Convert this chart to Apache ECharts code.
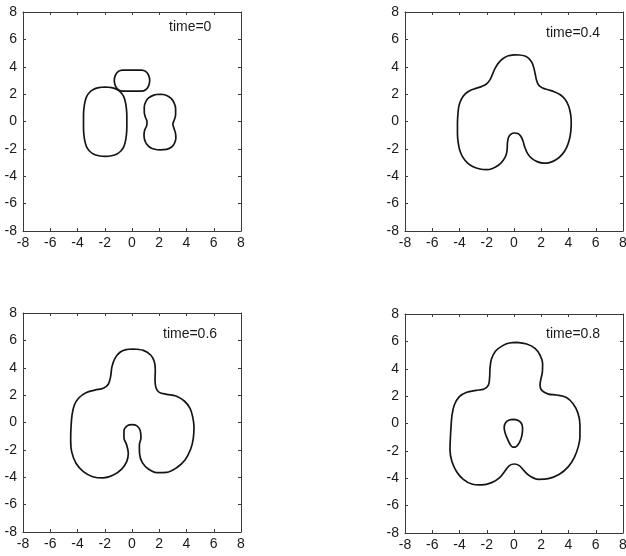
<!DOCTYPE html>
<html>
<head>
<meta charset="utf-8">
<script src="https://cdn.jsdelivr.net/npm/echarts@6/dist/echarts.min.js"></script>
<style>
  html, body { margin: 0; padding: 0; background: #fff; }
  #chart { width: 626px; height: 556px; }
</style>
</head>
<body>
<div id="chart"></div>
<script>
// Axis range shared by all four panels
const axisMin = -8;
const axisMax = 8;
const tickStep = 2;

// Panel captions
const panelTitles = ['time=0', 'time=0.4', 'time=0.6', 'time=0.8'];

// Interface contours, [x, y] along each closed curve

// time = 0: three separate bubbles
const t0Left = [
  [-1.97, 2.52], [-1.5, 2.47], [-1.1, 2.33], [-0.8, 2.1], [-0.6, 1.8], [-0.48, 1.4],
  [-0.41, 0.935], [-0.38, 0.385], [-0.38, -0.415], [-0.41, -0.965], [-0.48, -1.43],
  [-0.6, -1.83], [-0.8, -2.14], [-1.1, -2.37], [-1.5, -2.5], [-1.97, -2.55],
  [-2.44, -2.5], [-2.84, -2.37], [-3.14, -2.14], [-3.34, -1.83], [-3.46, -1.43],
  [-3.53, -0.965], [-3.56, -0.415], [-3.56, 0.385], [-3.53, 0.935], [-3.46, 1.4],
  [-3.34, 1.8], [-3.14, 2.1], [-2.84, 2.33], [-2.44, 2.47], [-1.97, 2.52]
];
const t0Top = [
  [0, 3.76], [0.7, 3.76], [1.0, 3.66], [1.22, 3.375], [1.3, 2.99], [1.22, 2.605], [1.0, 2.32],
  [0.7, 2.22], [0, 2.22], [-0.7, 2.22], [-1.0, 2.32], [-1.22, 2.605], [-1.3, 2.99],
  [-1.22, 3.375], [-1.0, 3.66], [-0.7, 3.76], [0, 3.76]
];
const t0Right = [
  [2.05, 1.99], [2.5, 1.92], [2.85, 1.7], [3.08, 1.38], [3.2, 0.95], [3.2, 0.5], [3.1, 0.1],
  [3.0, -0.2], [3.08, -0.5], [3.19, -0.85], [3.22, -1.2], [3.15, -1.52], [2.98, -1.8],
  [2.7, -1.98], [2.35, -2.06], [2.05, -2.07], [1.68, -2.03], [1.33, -1.9], [1.07, -1.65],
  [0.92, -1.32], [0.88, -0.95], [0.94, -0.6], [1.08, -0.3], [1.1, 0.0], [0.98, 0.32],
  [0.9, 0.7], [0.9, 1.08], [1.0, 1.42], [1.22, 1.72], [1.6, 1.93], [2.05, 1.99]
];

// time = 0.4: merged body with a notch from below
const t04Outer = [
  [0, 4.87], [0.42, 4.86], [0.8, 4.78], [1.1, 4.6], [1.32, 4.3], [1.46, 3.9], [1.56, 3.45],
  [1.66, 3.0], [1.82, 2.65], [2.1, 2.45], [2.5, 2.32], [2.95, 2.18], [3.4, 1.95], [3.76, 1.6],
  [4.02, 1.1], [4.16, 0.5], [4.2, -0.1], [4.17, -0.7], [4.07, -1.3], [3.86, -1.9],
  [3.52, -2.42], [3.08, -2.8], [2.6, -3.0], [2.15, -3.04], [1.7, -2.93], [1.3, -2.7],
  [1.0, -2.35], [0.8, -1.9], [0.66, -1.42], [0.5, -1.07], [0.28, -0.88], [0.02, -0.84],
  [-0.22, -0.92], [-0.4, -1.15], [-0.48, -1.55], [-0.5, -2.0], [-0.58, -2.45], [-0.8, -2.85],
  [-1.15, -3.2], [-1.58, -3.43], [-2.0, -3.52], [-2.5, -3.47], [-3.0, -3.3], [-3.42, -3.02],
  [-3.76, -2.6], [-3.98, -2.1], [-4.1, -1.5], [-4.15, -0.9], [-4.15, -0.2], [-4.12, 0.5],
  [-4.05, 1.1], [-3.88, 1.6], [-3.6, 2.0], [-3.22, 2.27], [-2.8, 2.42], [-2.4, 2.55],
  [-2.05, 2.72], [-1.78, 3.02], [-1.58, 3.45], [-1.38, 3.9], [-1.12, 4.3], [-0.8, 4.6],
  [-0.42, 4.8], [0, 4.87]
];

// time = 0.6
const t06Outer = [
  [0.1, 5.37], [0.83, 5.27], [1.37, 4.93], [1.64, 4.44], [1.71, 3.84], [1.69, 3.1],
  [1.76, 2.54], [2.0, 2.2], [2.54, 2.06], [3.23, 1.94], [3.84, 1.57], [4.26, 1.03],
  [4.45, 0.43], [4.55, -0.3], [4.5, -1.16], [4.31, -1.94], [3.89, -2.74], [3.28, -3.3],
  [2.54, -3.64], [1.81, -3.66], [1.2, -3.4], [0.76, -2.93], [0.56, -2.33], [0.54, -1.64],
  [0.66, -1.11], [0.59, -0.55], [0.34, -0.23], [0, -0.15], [-0.34, -0.23], [-0.59, -0.62],
  [-0.59, -1.11], [-0.39, -1.64], [-0.27, -2.25], [-0.39, -2.86], [-0.76, -3.4],
  [-1.37, -3.84], [-2.1, -4.05], [-2.89, -3.96], [-3.57, -3.59], [-4.11, -2.98],
  [-4.43, -2.13], [-4.5, -1.28], [-4.48, -0.43], [-4.4, 0.55], [-4.23, 1.28], [-3.89, 1.81],
  [-3.38, 2.18], [-2.72, 2.37], [-2.1, 2.5], [-1.74, 2.79], [-1.57, 3.35], [-1.47, 4.08],
  [-1.25, 4.69], [-0.88, 5.13], [-0.44, 5.32], [0.1, 5.37]
];

// time = 0.8: outer boundary plus an enclosed drop
const t08Outer = [
  [0.2, 5.93], [0.93, 5.81], [1.54, 5.49], [1.91, 5.0], [2.1, 4.39], [2.08, 3.74], [1.96, 3.18],
  [1.91, 2.77], [2.06, 2.4], [2.52, 2.15], [3.13, 2.08], [3.82, 1.91], [4.35, 1.42],
  [4.7, 0.74], [4.84, -0.11], [4.84, -0.96], [4.72, -1.69], [4.43, -2.47], [3.99, -3.15],
  [3.33, -3.71], [2.52, -4.03], [1.79, -4.08], [1.17, -3.84], [0.73, -3.45], [0.39, -3.08],
  [0.02, -2.96], [-0.34, -3.08], [-0.66, -3.47], [-1.03, -3.93], [-1.64, -4.32],
  [-2.37, -4.49], [-3.1, -4.42], [-3.72, -4.08], [-4.21, -3.52], [-4.55, -2.79],
  [-4.7, -1.94], [-4.67, -1.08], [-4.62, -0.23], [-4.55, 0.62], [-4.38, 1.35], [-4.01, 1.96],
  [-3.47, 2.28], [-2.79, 2.42], [-2.2, 2.52], [-1.88, 2.81], [-1.79, 3.35], [-1.76, 4.03],
  [-1.66, 4.69], [-1.35, 5.3], [-0.83, 5.69], [-0.34, 5.88], [0.2, 5.93]
];
const t08Inner = [
  [0, 0.3], [0.32, 0.22], [0.55, 0.0], [0.63, -0.35], [0.6, -0.75], [0.5, -1.15], [0.33, -1.5],
  [0.1, -1.72], [-0.1, -1.72], [-0.3, -1.5], [-0.48, -1.12], [-0.65, -0.7], [-0.72, -0.3],
  [-0.62, 0.05], [-0.35, 0.25], [0, 0.3]
];

// Which contours go in which panel
const panelCurves = [
  [t0Left, t0Top, t0Right],
  [t04Outer],
  [t06Outer],
  [t08Outer, t08Inner]
];

// Panel frames in pixels
const grids = [
  { left: 23, top: 12, width: 218, height: 219 },
  { left: 405, top: 12, width: 218, height: 219 },
  { left: 23, top: 313, width: 218, height: 219 },
  { left: 405, top: 314, width: 218, height: 219 }
];
const captionPos = [
  { left: 169, top: 20 },
  { left: 546, top: 26 },
  { left: 163, top: 327 },
  { left: 546, top: 327 }
];

const FONT = 'Liberation Sans, Arial, sans-serif';
const frameColor = '#3a3a3a';
const textColor = '#1a1a1a';

function makeAxis(gridIndex, position, showLabel) {
  return {
    type: 'value',
    gridIndex: gridIndex,
    position: position,
    min: axisMin,
    max: axisMax,
    interval: tickStep,
    axisLine: { show: true, onZero: false, lineStyle: { color: frameColor, width: 1 } },
    axisTick: { show: true, inside: true, length: 3, lineStyle: { color: frameColor, width: 1 } },
    axisLabel: {
      show: showLabel,
      fontSize: 14,
      fontFamily: FONT,
      color: textColor,
      margin: position === 'bottom' ? 5 : 6
    },
    splitLine: { show: false }
  };
}

const xAxes = [];
const yAxes = [];
grids.forEach((g, i) => {
  xAxes.push(makeAxis(i, 'bottom', true));
  yAxes.push(makeAxis(i, 'left', true));
});
grids.forEach((g, i) => {
  xAxes.push(makeAxis(i, 'top', false));
  yAxes.push(makeAxis(i, 'right', false));
});

const series = [];
panelCurves.forEach((curves, i) => {
  curves.forEach(pts => {
    series.push({
      type: 'line',
      xAxisIndex: i,
      yAxisIndex: i,
      data: pts,
      smooth: 0.35,
      showSymbol: false,
      symbol: 'none',
      silent: true,
      lineStyle: { color: '#151515', width: 1.7 }
    });
  });
});

const chart = echarts.init(document.getElementById('chart'), null, { renderer: 'canvas' });
chart.setOption({
  animation: false,
  backgroundColor: '#fff',
  title: panelTitles.map((t, i) => ({
    text: t,
    left: captionPos[i].left,
    top: captionPos[i].top,
    padding: 0,
    textStyle: { fontSize: 14, fontWeight: 'normal', fontFamily: FONT, color: textColor }
  })),
  grid: grids.map(g => Object.assign({ outerBoundsMode: 'none', containLabel: false }, g)),
  xAxis: xAxes,
  yAxis: yAxes,
  series: series
});
</script>
</body>
</html>
